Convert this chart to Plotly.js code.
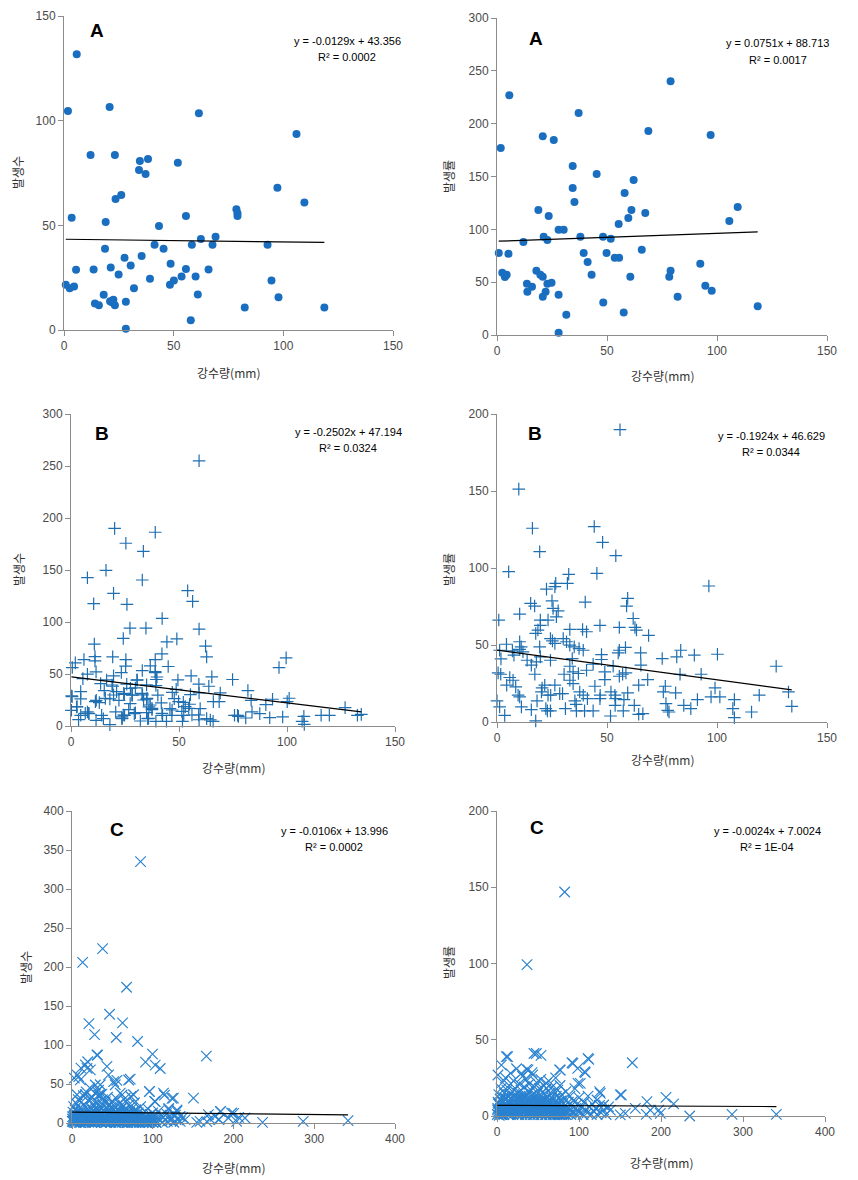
<!DOCTYPE html>
<html>
<head>
<meta charset="utf-8">
<script src="https://cdn.plot.ly/plotly-3.0.1.min.js"></script>
<style>html,body{margin:0;padding:0;background:#fff;}#chart{width:858px;height:1180px;}</style>
</head>
<body>
<div id="chart"></div>
<script>
// ---------------- DATA ----------------
const xTitle = "강수량(mm)";
const yTitleLeft = "발생수";
const yTitleRight = "발생률";
const panelLetters = ["A", "A", "B", "B", "C", "C"];
const equations = ["y = -0.0129x + 43.356", "y = 0.0751x + 88.713", "y = -0.2502x + 47.194", "y = -0.1924x + 46.629", "y = -0.0106x + 13.996", "y = -0.0024x + 7.0024"];
const rSquared = ["R² = 0.0002", "R² = 0.0017", "R² = 0.0324", "R² = 0.0344", "R² = 0.0002", "R² = 1E-04"];
const slopes = [-0.0129, 0.0751, -0.2502, -0.1924, -0.0106, -0.0024];
const intercepts = [43.356, 88.713, 47.194, 46.629, 13.996, 7.0024];

// Panel A, left (발생수)
const aLeftX = [5.8,1.8,20.8,61.5,106,12.1,23.2,51.9,34.6,38.3,34.2,37.2,97.3,109.6,23.5,26.1,78.6,79.1,79.1,3.5,19,55.6,43.3,62.4,69.1,41.3,58.3,67.7,92.8,18.7,45.4,35.4,27.6,48.6,30.4,5.5,13.5,21.3,55.6,65.9,24.9,39.2,53.6,60,50.1,94.6,48.3,0.8,2.6,4.6,31.9,18.1,61,97.8,14.1,15.9,21,22.5,23.2,28.2,82.4,118.7,57.8,28.2,21.8];
const aLeftY = [131.7,104.6,106.5,103.6,93.6,83.6,83.6,79.9,80.7,81.7,76.4,74.5,67.9,60.9,62.6,64.5,57.7,55.8,54.5,53.6,51.6,54.5,49.7,43.5,44.5,40.7,40.7,40.7,40.7,38.8,38.8,35.4,34.5,31.6,30.8,28.8,28.9,29.9,29.1,28.9,26.5,24.5,25.6,25.6,23.7,23.7,21.6,21.6,19.9,20.8,19.9,16.8,17,15.6,12.7,11.8,13.7,14.5,11.8,13.5,10.8,10.8,4.6,0.6,13.2];

// Panel A, right (발생률)
const aRightX = [78.9,5.6,37.1,68.8,97.1,20.8,25.8,1.7,34.4,45.3,62.1,34.4,58,35.2,109.4,18.8,61.1,67.4,23.5,59.7,105.6,55.3,28,30.3,12,21.2,22.9,37.9,48.2,51.7,0.8,5.2,39.4,49.8,65.8,53.5,55.5,41.2,92.4,2.4,4.4,3.6,17.9,19.7,20.8,43,60.6,78.9,78.3,13.6,15.9,13.8,22.9,24.8,22.1,20.8,28,94.7,97.6,82.1,48.3,118.5,31.5,57.6,28];
const aRightY = [240.2,227,210,193,189.2,188.2,184.5,176.9,159.9,152.3,146.7,139.1,134.4,125.9,121.2,118.4,118.4,115.5,112.7,110.8,108,105.1,99.5,99.5,88.1,92.9,90,92.9,92.9,91,77.7,76.8,77.7,77.7,80.6,73,73,69.2,67.4,58.9,57,54.8,60.7,57,55.1,57,55.1,60.7,55.1,48.5,45.6,40.9,48.5,49.4,40.9,36.2,38.1,46.6,41.9,36.2,30.8,27.1,19.2,21.4,2.2];

// Panel B, left (발생수)
const bLeftX = [59.3,20.2,39,25.4,33.5,16.2,7.6,33,54,19.7,56.3,10.5,25.9,42.2,27.3,34.7,59.3,24.2,49,44.4,10.8,62.3,42.1,11.1,19.3,62.8,99.6,6,25.4,39,11.1,2,0.6,96.3,25.3,36.7,45,7.6,11.6,19.7,23.3,33,39,55.6,65.2,5.5,16.5,30.7,39.5,49.5,74.8,13.7,25.8,35,59.2,63.8,19.3,29.8,39.3,48.7,81.9,4.5,15.4,21.1,46.9,69.1,59.3,0.3,24.7,28.4,33.1,40.2,55.3,4.5,11.7,18,22.2,35,47.8,93.3,101,13.1,27.4,41.8,52,65.9,68.6,83.4,100.1,54.9,36.1,2.6,90.2,126.9,0.2,26.7,37.5,45.8,59.8,7.6,20.7,29.8,35,51.3,83.8,8.3,29.3,52.2,56,75.7,77.1,77.5,87.4,115.8,119.6,132.6,134.4,107.8,4.5,14.2,23.6,42.4,46.7,98,92,80.9,3.5,11.6,32.1,35.5,39.3,44.2,51.6,65.8,107,108,18,15,59.3,23.6,24.8,62.8,19,19.7,24.4,28.2,32.9,35.2,36.7,37.5,33.6,15.9,11.3,6.6,8.2,24.4,23.6,35.9,52.9,54.5,59.1,64.5,0.5,2.8,42.1,46.8,49.8,27.5,30.5,39,39.8];
const bLeftY = [255,190,186.3,175.7,168,149.7,142.6,140.4,130.1,127.5,119.8,117.6,116.9,103.4,94.1,94.1,93.2,84.2,83.8,80.9,78.7,76.8,69.4,66.8,66.5,66.5,65.5,63.9,63.9,63.9,62.6,60.7,56.2,56.2,57.5,57.8,57.2,49.8,52,48.2,51.4,53.3,51.4,48.2,47.2,45.6,44.3,44.3,44.7,44.3,44.7,40.8,40.2,39.5,40.2,38.2,38.2,36.6,38.9,35.3,34.1,33.1,34.1,33.1,32.4,31.8,31.8,28.9,30.5,29.6,29.9,29.6,30.2,26,24.7,26,24.7,25.7,26.3,25.7,26.7,22.5,21.5,22.2,22.8,23.4,23.4,24.7,23.4,20.9,18.3,18.3,20.6,17.7,15.1,15.7,15.7,16.7,16.7,13.5,13.5,12.8,12.8,14.1,13.5,11.9,11.9,10.3,10.6,10.3,10.3,9.3,11.9,10.3,10.3,10.3,11.2,9.3,10.3,10.3,8.7,10.3,10.3,8.7,8,7.7,6.1,5.5,4.8,7.1,4.5,4.5,4.5,4.5,4.5,1.6,1.3,7,6,7.1,10.3,7.1,39.4,29.8,31.4,29.8,31.4,26.6,20.2,17,25,26.6,23.4,12.2,12.2,10.6,7.4,7.4,18.6,17,10.6,5.8,28.2,18.6,12.2,15.4,23.4,36.2,44.2,52.2,47.1];

// Panel B, right (발생률)
const bRightX = [55.9,9.9,44.2,16.1,48,19.4,54,5.3,45.4,32.6,32,96.3,26.7,22.5,26.3,40.1,59.4,25,15.3,17.1,58.9,25.5,27.8,10.3,27,61.9,0.8,23.2,19.7,19.7,46.8,55.6,62.7,63.4,33.1,38.9,40.7,17.6,18.6,68.9,24.3,25.2,26.3,30.1,31.6,10.3,33.1,4.3,11,19.4,35.1,37.3,58.4,39.2,55.6,65.3,83.5,100.2,89.7,1.2,7,11.8,10.3,7.7,47.5,55.1,81.7,1.8,13.7,17.9,19.7,24.3,34.2,47.5,75.1,15.6,43.7,52.8,65.4,126.9,33.1,0.5,1.7,17.2,30.5,34.6,40.7,37,49,57.1,58.6,83.2,92.8,55.6,33.1,49,68.5,5.8,7.3,4.4,8.5,21.7,26.3,34.6,44.5,64.4,76.5,99.1,20.5,20.2,37.6,75.6,81.2,132.5,119.2,51.8,59.4,9.6,23.2,24.4,28.5,29.8,39.2,46.9,53.6,10.3,97.3,101.3,35.4,41.1,46.8,53.9,57.7,91.1,107.9,18.2,0,76.8,36,53.7,62.4,84.9,1.2,11.1,134,88.1,77.6,15.6,22.2,22.9,24.3,31.1,36.1,39.8,43.7,57.4,78.2,107.2,115.7,3.5,51.6,64.4,66.3,107.9,17.6];
const bRightY = [189.8,151.2,126.9,125.8,116.7,110.6,108,97.6,96.5,95.9,90,88.3,90,86.3,87.9,77.9,80.3,78.7,77,75.3,75.3,73.8,72.2,70.1,68.3,67.2,66.2,66.2,66.2,62.7,62.7,61.4,61.4,59.7,60.1,60.1,58.6,57.5,59.7,56.2,54.2,52.7,51,54.2,52.1,52.1,49.9,50.5,48.8,48.8,48.8,47.7,48.4,46.6,46.6,44.9,46.6,44,43.4,46.6,46.2,45.6,47.1,43.4,43.8,44.9,42.3,41,40.1,39,42.3,40.1,41.2,40.6,41.2,36.9,37.5,36.2,36.9,36.2,36.2,31.9,31,31,31,32.5,33.6,31.5,32.5,31,31.9,31,31,29.7,27.1,27.5,27.5,28.9,27.1,23.9,22.8,23.9,23.9,24.9,23.2,23.9,23.2,22.1,22.1,19.5,19.5,19.5,18.9,19.5,17.4,19.5,18.9,17.4,17.4,17.4,18.4,18.4,17.4,17.4,17.4,16.3,16.3,16.3,13.7,15.2,15.2,15.2,14.5,14.5,14.5,13.7,13.7,11.9,11.5,10.8,10.8,10.8,9.8,9.8,10.2,8.7,7.6,8,8.7,7.2,7.2,8.7,7.2,7.2,7.2,7.2,6.5,8.7,6.5,4.3,3.9,5,5.4,2.8,0.7];

// Panel C, left (발생수)
const cLeftX = [84.9,37.9,13.2,67.6,46.5,21,62.6,28,54.8,81.2,166.4,31.7,99.7,91,103,109.2,19.4,11.1,16.5,22.7,43.3,45.3,72.1,6.2,2.9,10.3,55.6,53.6,35,30.9,37.1,96,113.3,114.4,125.6,150.4,102.2,76.2,65.9,59.7,16.5,6.2,22.7,184.1,197.7,214.2,182,203.9,236,286.3,341.9,171,158.6,154.5,140.1,133.9,129.8,119.5,193.6,177.1,168.9,30.9,18.6,8.3,28.9,33,51.6,70.2,95.8,123.8,103.2,119.7,130,183.7,200.2,206.4,181.6,167.1,
0.3,0.8,1.2,1.5,2.1,2.4,2.9,3.3,3.8,4.2,4.6,5.1,5.4,5.9,6.3,6.8,7.2,7.7,8.1,8.6,9,9.4,9.9,10.3,10.8,11.2,11.7,12.1,12.6,13,13.4,13.9,14.3,14.8,15.2,15.7,16.1,16.6,17,17.5,17.9,18.4,18.8,19.3,19.7,20.2,20.6,21.1,21.5,22,22.4,22.9,23.3,23.8,24.2,24.7,25.1,25.6,26,26.5,26.9,27.4,27.8,28.3,28.7,29.2,29.6,30.1,30.5,31,31.4,31.9,32.3,32.8,33.2,33.7,34.1,34.6,35,35.5,35.9,36.4,36.8,37.3,37.7,38.2,38.6,39.1,39.5,40,40.4,40.9,41.3,41.8,42.2,42.7,43.1,43.6,44,44.5,44.9,45.4,45.8,46.3,46.7,47.2,47.6,48.1,48.5,49,49.4,49.9,50.3,50.8,51.2,51.7,52.1,52.6,53,53.5,53.9,54.4,54.8,55.3,55.7,56.2,56.6,57.1,57.5,58,58.4,58.9,59.3,59.8,60.2,60.7,61.1,61.6,62,62.5,62.9,63.4,63.8,64.3,64.7,65.2,65.6,66.1,66.5,67,67.4,67.9,68.3,68.8,69.2,69.7,70.1,70.6,71,71.5,71.9,72.4,72.8,73.3,73.7,74.2,74.6,75.1,75.5,76,76.4,76.9,77.3,77.8,78.2,78.7,79.1,79.6,80,81,82,83,84,85,86,87,88,89,90,91,92,93,94,95,96,97,98,99,100,101,103,104,106,107,109,110,112,113,115,117,118,120,122,124,126,128,131,134,137,
0.6,1.9,3.2,4.4,5.7,6.9,8.2,9.5,10.7,12,13.3,14.5,15.8,17,18.3,19.6,20.8,22.1,23.4,24.6,25.9,27.1,28.4,29.7,30.9,32.2,33.5,34.7,36,37.2,38.5,39.8,41,42.3,43.6,44.8,46.1,47.3,48.6,49.9,51.1,52.4,53.7,54.9,56.2,57.4,58.7,60,61.2,62.5,63.8,65,66.3,67.5,68.8,70.1,71.3,72.6,73.9,75.1,76.4,77.6,78.9,80.2,81.4,82.7,84,85.2,86.5,87.7,89,90.3,91.5,92.8,94.1,95.3,96.6,97.8,99.1,100.4,101.6,102.9,104.2];
const cLeftY = [335.2,223.5,206,174,139.4,127.5,128.4,113.4,109.6,104.5,85.7,87,88.3,78,74.2,69.9,78.5,70.4,74.6,68.2,72.5,61.8,56.3,61.8,57.6,55.4,54.6,49,49,40.5,37.1,40.5,38.4,35.8,32,32,27.7,36.2,32,38.4,36.2,36.2,32,14.9,12.8,6.4,4.3,2.1,0.9,2.1,3,5.1,2.1,0.9,4.3,8.5,14.9,17.1,6.4,8.5,10.7,87.2,70,59.5,48.7,35.9,53,55.1,40.2,31.6,27.4,18.8,16.7,14.5,12.4,7.3,4.7,1.7,
2,8,14,4,21,1,10,6,17,3,12,0.5,25,7,15,2,9,30,5,12,1,19,8,3,14,6,27,10,2,16,5,35,11,1,8,22,4,13,7,40,2,18,9,5,12,29,1,15,7,45,3,11,20,6,13,2,33,9,16,4,24,10,1,14,38,6,19,3,12,8,26,2,15,42,7,11,21,4,36,9,14,1,18,6,30,12,3,23,8,15,2,10,27,5,13,1,19,7,33,11,3,16,8,24,2,12,6,20,1,14,9,28,4,11,17,2,7,22,13,5,1,15,9,31,3,12,18,6,1,10,25,4,14,8,2,19,11,5,36,1,13,7,21,3,10,16,2,6,28,12,4,9,1,17,7,3,23,11,5,14,2,8,34,1,12,6,19,3,9,15,1,7,26,4,11,2,17,6,9,3,13,1,8,21,4,11,2,6,15,1,9,3,18,5,1,11,7,2,13,4,9,1,6,15,3,10,1,7,4,12,2,8,3,6,1,10,4,2,7,
5,2,8,1,4,9,3,6,0.5,7,2,10,4,1,6,3,8,2,5,0.5,9,4,1,7,3,6,2,10,1,5,8,3,0.5,6,2,9,4,1,7,3,5,2,8,0.5,4,6,1,3,9,2,5,1,7,4,0.5,6,3,2,8,1,5,3,0.5,6,2,4,1,7,3,0.5,5,2,4,1,6,0.5,3,2,5,1,4,2,0.5];

// Panel C, right (발생률)
const cRightX = [82.5,36.6,165,45.1,53.7,13,111.8,91.5,98.4,107.7,36.2,42.7,77.2,101.6,126,150.4,206.1,215.4,182.9,168.7,187,197.2,199.2,182.1,235,286.6,340.7,156.5,150.4,138.2,130.1,122,48,11.4,111,92.7,106.9,37.8,29.7,5.3,1.2,76.4,60.2,98.8,125.2,151.6,
0.4,0.9,1.3,1.8,2.2,2.7,3.1,3.6,4,4.5,4.9,5.4,5.8,6.3,6.7,7.2,7.6,8.1,8.5,9,9.4,9.9,10.3,10.8,11.2,11.7,12.1,12.6,13,13.5,13.9,14.4,14.8,15.3,15.7,16.2,16.6,17.1,17.5,18,18.4,18.9,19.3,19.8,20.2,20.7,21.1,21.6,22,22.5,22.9,23.4,23.8,24.3,24.7,25.2,25.6,26.1,26.5,27,27.4,27.9,28.3,28.8,29.2,29.7,30.1,30.6,31,31.5,31.9,32.4,32.8,33.3,33.7,34.2,34.6,35.1,35.5,36,36.4,36.9,37.3,37.8,38.2,38.7,39.1,39.6,40,40.5,40.9,41.4,41.8,42.3,42.7,43.2,43.6,44.1,44.5,45,45.4,45.9,46.3,46.8,47.2,47.7,48.1,48.6,49,49.5,49.9,50.4,50.8,51.3,51.7,52.2,52.6,53.1,53.5,54,54.4,54.9,55.3,55.8,56.2,56.7,57.1,57.6,58,58.5,58.9,59.4,59.8,60.3,60.7,61.2,61.6,62.1,62.5,63,63.4,63.9,64.3,64.8,65.2,65.7,66.1,66.6,67,67.5,67.9,68.4,68.8,69.3,69.7,70.2,70.6,71.1,71.5,72,72.4,72.9,73.3,73.8,74.2,74.7,75.1,75.6,76,76.5,76.9,77.4,77.8,78.3,78.7,79.2,79.6,80.1,81,82,83,84,85,86,87,88,89,90,91,92,93,94,95,96,97,98,99,100,102,103,105,106,108,110,111,113,115,116,118,120,122,125,127,130,133,136,
0.7,1.8,2.9,4.1,5.2,6.3,7.4,8.6,9.7,10.8,11.9,13.1,14.2,15.3,16.4,17.6,18.7,19.8,20.9,22.1,23.2,24.3,25.4,26.6,27.7,28.8,29.9,31.1,32.2,33.3,34.4,35.6,36.7,37.8,38.9,40.1,41.2,42.3,43.4,44.6,45.7,46.8,47.9,49.1,50.2,51.3,52.4,53.6,54.7,55.8,56.9,58.1,59.2,60.3,61.4,62.6,63.7,64.8,65.9,67.1,68.2,69.3,70.4,71.6,72.7,73.8,74.9,76.1,77.2,78.3,79.4,80.6,81.7,82.8,83.9];
const cRightY = [146.9,99.3,34.9,41,39.7,38.9,37.1,34.9,31.2,28.4,30.6,28.4,30.1,21.4,14.8,13.8,12.2,7.9,9.4,5,3.9,3.9,1.7,1.1,0,1.1,1.1,1.7,0.7,3.9,7.2,10.5,41,38.9,37.8,34.5,29,30.2,28,33.4,26.9,30.2,21.4,21.4,16,13.8,
1,5,9,3,14,0.5,7,4,11,2,18,6,1,9,22,3,12,5,1,15,8,3,25,6,11,2,17,7,4,13,1,9,20,5,14,2,28,8,3,11,6,16,1,10,23,4,13,7,2,18,9,5,31,12,1,7,15,3,10,21,6,13,2,8,17,4,11,1,26,7,14,3,9,19,5,12,1,8,24,4,13,6,2,16,10,3,21,7,12,1,5,17,9,2,14,6,27,3,11,1,8,19,4,13,7,2,22,10,5,15,1,8,3,12,18,6,2,10,24,4,13,1,7,16,3,9,20,5,11,2,14,7,1,18,4,9,12,2,6,23,3,10,1,15,5,8,2,12,19,4,7,1,11,3,16,6,2,9,25,4,13,1,7,3,17,9,2,5,12,1,20,6,3,10,2,14,5,8,1,11,3,16,6,2,9,4,13,1,7,3,10,2,18,5,1,8,3,12,2,6,1,9,4,2,13,6,1,8,3,5,1,7,2,4,1,6,
4,8,2,11,6,1,9,3,12,5,7,2,10,4,1,8,6,13,3,9,2,5,11,1,7,4,10,2,6,12,3,8,1,5,9,2,11,4,7,1,6,10,3,8,2,5,9,1,4,7,2,6,1,3,8,2,5,1,4,6,2,3,1,5,2,4,1,3,2,1,4,2,1,3,1];

// ---------------- CHART ----------------
const W = 858, H = 1180;
const px = v => v / W;
const py = v => 1 - v / H;

// pixel boxes of each plot area [left, right, top, bottom]
const boxes = [
  [64, 393, 16, 330],
  [497, 827, 18, 335],
  [71, 395, 414, 726],
  [497, 827, 414, 722],
  [72, 395, 811, 1123],
  [497, 825, 811, 1116]
];
const panels = [
  {x: aLeftX, y: aLeftY, xr: [0,150], xd: 50, yr: [0,150], yd: 50, sym: 'circle'},
  {x: aRightX, y: aRightY, xr: [0,150], xd: 50, yr: [0,300], yd: 50, sym: 'circle'},
  {x: bLeftX, y: bLeftY, xr: [0,150], xd: 50, yr: [0,300], yd: 50, sym: 'cross'},
  {x: bRightX, y: bRightY, xr: [0,150], xd: 50, yr: [0,200], yd: 50, sym: 'cross'},
  {x: cLeftX, y: cLeftY, xr: [0,400], xd: 100, yr: [0,400], yd: 50, sym: 'x'},
  {x: cRightX, y: cRightY, xr: [0,400], xd: 100, yr: [0,200], yd: 50, sym: 'x'}
];
// label positions (pixels)
const letterPos = [[97,31],[536,38],[102,433],[535,433],[117,829],[537,827]];
const eqPos = [[347,41],[777,43],[348,432],[771,436],[334,831],[767,831]];
const r2Pos = [[347,57],[778,60],[348,448],[771,452],[334,847],[767,847]];
const xTitlePos = [[228,372],[662,375],[233,767],[662,760],[233,1167],[661,1162]];
const yTitlePos = [[18,173],[448,177],[18,570],[448,570],[26,968],[448,963]];

const traces = [];
const layout = {
  width: W, height: H,
  margin: {l: 0, r: 0, t: 0, b: 0},
  paper_bgcolor: '#ffffff', plot_bgcolor: '#ffffff',
  showlegend: false,
  font: {family: 'Liberation Sans, Arial, sans-serif', color: '#404040'},
  annotations: []
};

const axisCommon = {
  showgrid: false, zeroline: false, showline: true,
  linecolor: '#8c8c8c', linewidth: 1,
  ticks: 'outside', ticklen: 5, tickcolor: '#8c8c8c', tickwidth: 1,
  tickfont: {family: 'Liberation Sans, Arial, sans-serif', size: 12, color: '#4a4a4a'},
  fixedrange: true
};

panels.forEach((p, i) => {
  const n = i === 0 ? '' : String(i + 1);
  const b = boxes[i];
  layout['xaxis' + n] = Object.assign({}, axisCommon, {
    domain: [px(b[0]), px(b[1])], range: p.xr, dtick: p.xd, tick0: 0, anchor: 'y' + n
  });
  layout['yaxis' + n] = Object.assign({}, axisCommon, {
    domain: [py(b[3]), py(b[2])], range: p.yr, dtick: p.yd, tick0: 0, anchor: 'x' + n
  });
  let marker;
  if (p.sym === 'circle') {
    marker = {symbol: 'circle', size: 8, color: '#1a6ec0', line: {width: 0}};
  } else if (p.sym === 'cross') {
    marker = {symbol: 'cross-thin-open', size: 9, color: '#1f6fb0', line: {width: 1.2, color: '#1f6fb0'}};
  } else {
    marker = {symbol: 'x-thin-open', size: 10.5, color: '#2a82d0', line: {width: 1.15, color: '#2a82d0'}};
  }
  traces.push({
    type: 'scatter', mode: 'markers', x: p.x, y: p.y,
    xaxis: 'x' + n, yaxis: 'y' + n, marker: marker, cliponaxis: false, hoverinfo: 'skip'
  });
  const xmin = Math.min(...p.x), xmax = Math.max(...p.x);
  traces.push({
    type: 'scatter', mode: 'lines',
    x: [xmin, xmax], y: [slopes[i] * xmin + intercepts[i], slopes[i] * xmax + intercepts[i]],
    xaxis: 'x' + n, yaxis: 'y' + n, line: {color: '#000000', width: 1.2}, hoverinfo: 'skip'
  });
  const ann = (pos, text, extra) => Object.assign({
    xref: 'paper', yref: 'paper', x: px(pos[0]), y: py(pos[1]),
    xanchor: 'center', yanchor: 'middle', showarrow: false, text: text
  }, extra);
  layout.annotations.push(ann(letterPos[i], '<b>' + panelLetters[i] + '</b>',
    {font: {family: 'Liberation Sans, Arial, sans-serif', size: 19, color: '#000000'}}));
  layout.annotations.push(ann(eqPos[i], equations[i],
    {font: {family: 'Liberation Sans, Arial, sans-serif', size: 11, color: '#000000'}}));
  layout.annotations.push(ann(r2Pos[i], rSquared[i],
    {font: {family: 'Liberation Sans, Arial, sans-serif', size: 11, color: '#000000'}}));
  layout.annotations.push(ann(xTitlePos[i], xTitle,
    {font: {family: 'Noto Sans CJK KR, sans-serif', size: 12, color: '#333333'}}));
  layout.annotations.push(ann(yTitlePos[i], i % 2 === 0 ? yTitleLeft : yTitleRight,
    {textangle: -90, font: {family: 'Noto Sans CJK KR, sans-serif', size: 12, color: '#333333'}}));
});

Plotly.newPlot('chart', traces, layout, {staticPlot: true, displayModeBar: false});
</script>
</body>
</html>
